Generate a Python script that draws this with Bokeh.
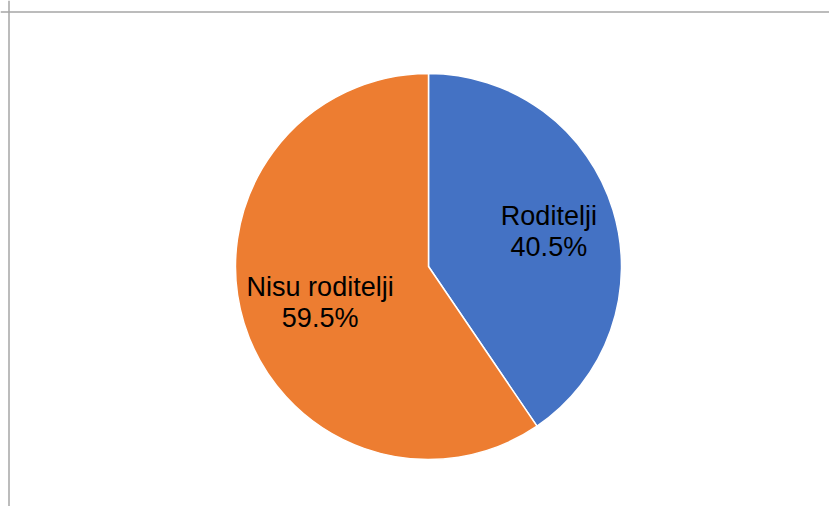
import math
from bokeh.plotting import figure
from bokeh.models import Range1d, Span, ColumnDataSource
from bokeh.core.properties import value
from bokeh.embed import file_html
from bokeh.resources import INLINE

categories = ["Roditelji", "Nisu roditelji"]
values = [40.5, 59.5]
colors = ["#4472C4", "#ED7D31"]

W, H = 829, 506
p = figure(width=W, height=H, output_backend="svg", toolbar_location=None,
           x_range=Range1d(0, W), y_range=Range1d(0, H), min_border=0)
p.axis.visible = False
p.grid.visible = False
p.outline_line_color = None
p.background_fill_color = "white"
p.border_fill_color = "white"

cx, cy, r = 428, H - 266, 193
total = sum(values)
starts, ends, lx, ly = [], [], [], []
a = math.pi / 2
for v in values:
    sweep = 2 * math.pi * v / total
    ends.append(a)
    starts.append(a - sweep)
    mid = a - sweep / 2
    lx.append(cx + 6 + 0.62 * r * math.cos(mid))
    ly.append(cy - 2 + 0.62 * r * math.sin(mid))
    a -= sweep

src = ColumnDataSource(dict(start=starts, end=ends, color=colors,
                            name=categories,
                            pct=[f"{v:.1f}%" for v in values],
                            lx=lx, ly=ly,
                            ly1=[y + 17 for y in ly], ly2=[y - 14 for y in ly]))
p.wedge(x=cx, y=cy, radius=r, start_angle="start", end_angle="end",
        fill_color="color", line_color="white", line_width=1.5, source=src)
p.text(x="lx", y="ly1", text="name", source=src, text_align="center",
       text_baseline="alphabetic", text_font=value("Liberation Sans"),
       text_font_size="27px", text_color="#000000")
p.text(x="lx", y="ly2", text="pct", source=src, text_align="center",
       text_baseline="alphabetic", text_font=value("Liberation Sans"),
       text_font_size="27px", text_color="#000000")

p.add_layout(Span(location=H - 11.5, dimension="width", line_color="#a6a6a6", line_width=1.5))
p.add_layout(Span(location=8.5, dimension="height", line_color="#a6a6a6", line_width=1.5))

open("out.html", "w").write(file_html(p, INLINE))
